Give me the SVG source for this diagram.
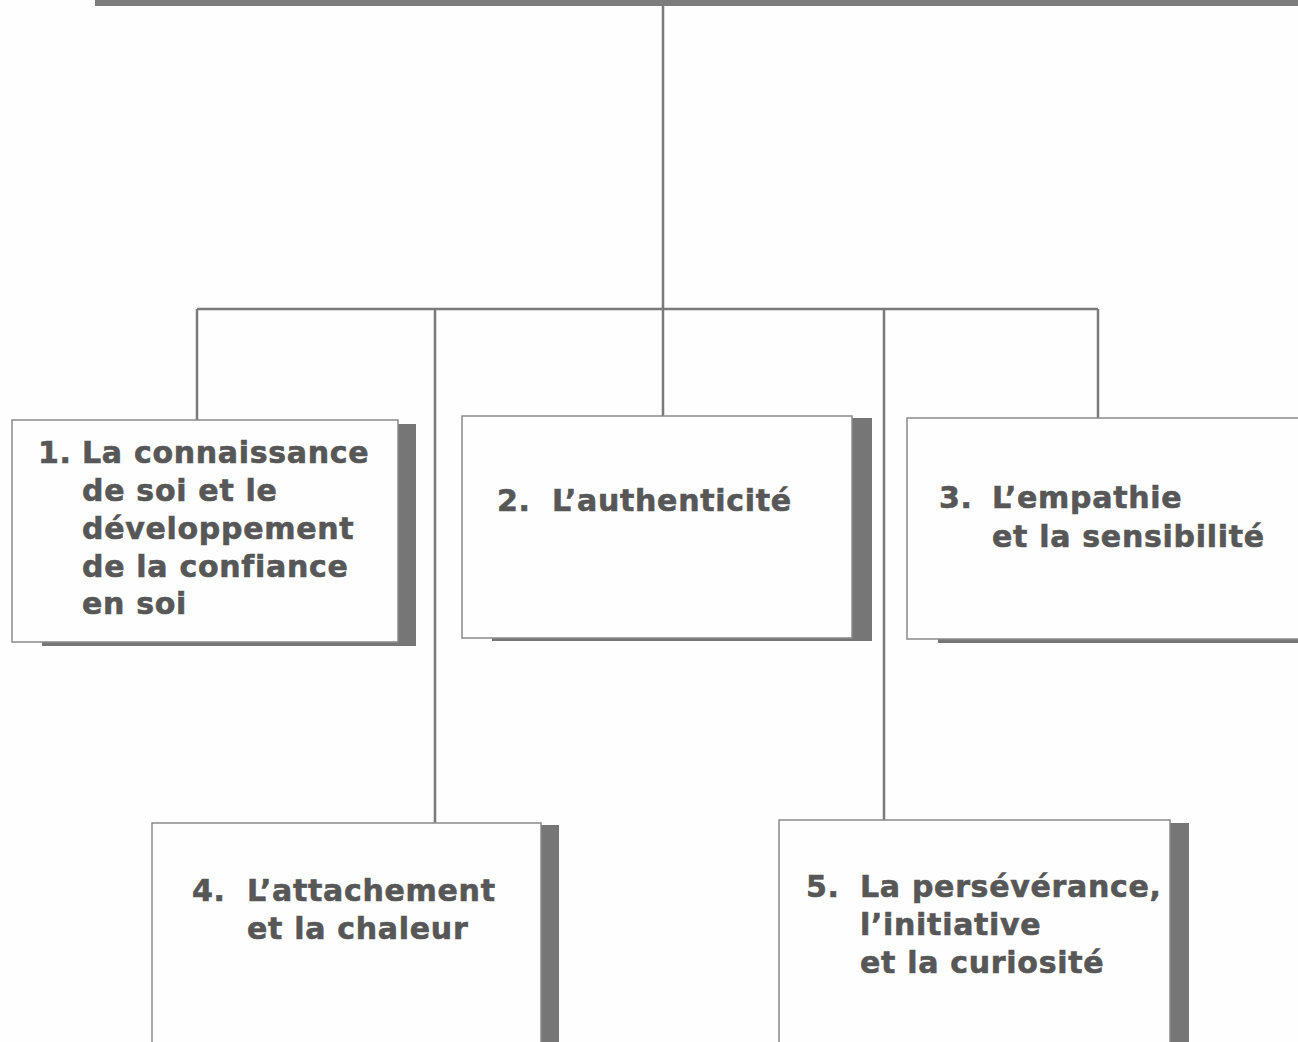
<svg xmlns="http://www.w3.org/2000/svg" width="1298" height="1042" viewBox="0 0 1298 1042">
  <style>
    .bg { fill: #fefefe; }
    .bar { fill: #7c7c7c; }
    .link { stroke: #7a7a7a; stroke-width: 2.5; fill: none; }
    .box { fill: #fefefe; stroke: #8a8a8a; stroke-width: 1.5; }
    .shade { fill: #767676; }
    .label { font-family: "DejaVu Sans", "Liberation Sans", sans-serif; font-weight: bold; font-size: 30px; letter-spacing: 0.7px; font-variant-ligatures: none; fill: #575757; stroke: #575757; stroke-width: 0.6; }
  </style>
  <rect class="bg" x="0" y="0" width="1298" height="1042"/>

  <!-- heading band at the top edge -->
  <rect class="bar" x="95" y="0" width="1203" height="6"/>

  <!-- connectors -->
  <g id="connectors">
    <path class="link" d="M663 6 V309"/>
    <path class="link" d="M197 309 H1098"/>
    <path class="link" d="M197 309 V420"/>
    <path class="link" d="M435 309 V823"/>
    <path class="link" d="M663 309 V416"/>
    <path class="link" d="M884 309 V820"/>
    <path class="link" d="M1098 309 V418"/>
  </g>

  <!-- 1 -->
  <g id="node1">
    <rect class="shade" x="398" y="424" width="18" height="222"/>
    <rect class="shade" x="42" y="642" width="374" height="4"/>
    <rect class="box" x="12" y="420" width="386" height="222"/>
    <text class="label">
      <tspan x="38" y="463">1.</tspan><tspan x="82" y="463">La connaissance</tspan>
      <tspan x="82" y="501">de soi et le</tspan>
      <tspan x="82" y="539">développement</tspan>
      <tspan x="82" y="577">de la confiance</tspan>
      <tspan x="82" y="614">en soi</tspan>
    </text>
  </g>

  <!-- 2 -->
  <g id="node2">
    <rect class="shade" x="852" y="418" width="20" height="223"/>
    <rect class="shade" x="492" y="638" width="380" height="3"/>
    <rect class="box" x="462" y="416" width="390" height="222"/>
    <text class="label">
      <tspan x="497" y="511">2.</tspan><tspan x="552" y="511">L’authenticité</tspan>
    </text>
  </g>

  <!-- 3 -->
  <g id="node3">
    <rect class="shade" x="938" y="639" width="360" height="4"/>
    <rect class="box" x="907" y="418" width="400" height="221"/>
    <text class="label">
      <tspan x="939" y="508">3.</tspan><tspan x="992" y="508">L’empathie</tspan>
      <tspan x="992" y="547">et la sensibilité</tspan>
    </text>
  </g>

  <!-- 4 -->
  <g id="node4">
    <rect class="shade" x="541" y="825" width="18" height="230"/>
    <rect class="box" x="152" y="823" width="389" height="230"/>
    <text class="label">
      <tspan x="192" y="901">4.</tspan><tspan x="247" y="901">L’attachement</tspan>
      <tspan x="247" y="939">et la chaleur</tspan>
    </text>
  </g>

  <!-- 5 -->
  <g id="node5">
    <rect class="shade" x="1170" y="823" width="19" height="230"/>
    <rect class="box" x="779" y="820" width="391" height="233"/>
    <text class="label">
      <tspan x="806" y="897">5.</tspan><tspan x="860" y="897">La persévérance,</tspan>
      <tspan x="860" y="935">l’initiative</tspan>
      <tspan x="860" y="973">et la curiosité</tspan>
    </text>
  </g>
</svg>
